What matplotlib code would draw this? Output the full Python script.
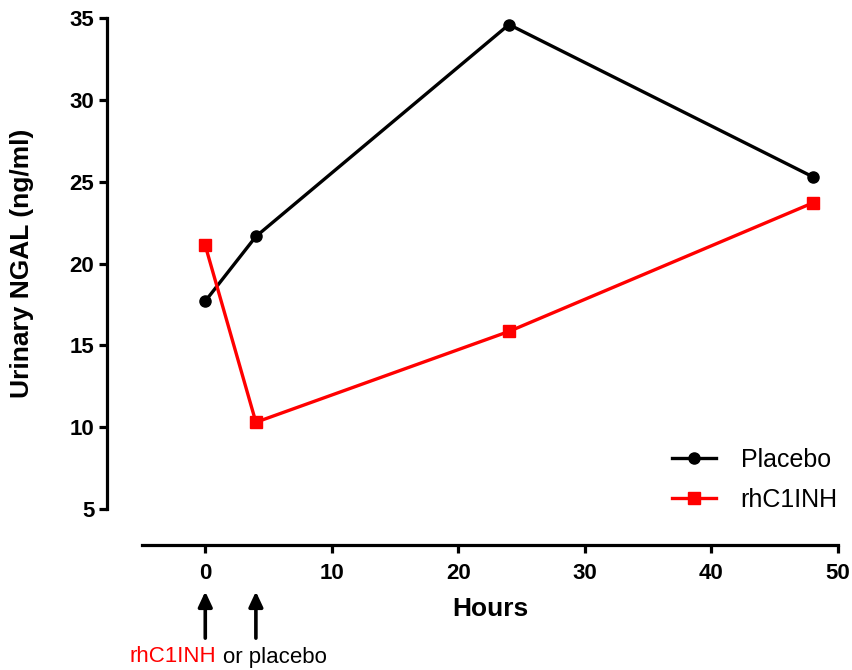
import matplotlib
matplotlib.use("Agg")
import matplotlib.pyplot as plt

plt.rcParams['font.family'] = ['Liberation Sans', 'DejaVu Sans']

hours = [0, 4, 24, 48]
placebo = [17.7, 21.65, 34.6, 25.3]
rhc1inh = [21.1, 10.3, 15.85, 23.7]
xticks = [0, 10, 20, 30, 40, 50]
yticks = [5, 10, 15, 20, 25, 30, 35]
arrow_x = [0, 4]

fig = plt.figure(figsize=(8.52, 6.70), dpi=100)
ax = fig.add_axes([142/852, 1-545/670, (838-142)/852, (545-18)/670])

ax.plot(hours, placebo, color='black', lw=2.4, marker='o', ms=8, label='Placebo', clip_on=False, zorder=3)
ax.plot(hours, rhc1inh, color='#ff0000', lw=2.4, marker='s', ms=8, label='rhC1INH', clip_on=False, zorder=3)

ax.set_xlim(-5, 50)
ax.set_ylim(5 - 36/16.37, 35)
ax.set_xticks(xticks)
ax.set_yticks(yticks)
for s in ['top', 'right']:
    ax.spines[s].set_visible(False)
ax.spines['left'].set_position(('outward', 25.2))
ax.spines['left'].set_bounds(5, 35)
ax.spines['bottom'].set_bounds(-5, 50)
for s in ['left', 'bottom']:
    ax.spines[s].set_linewidth(2.3)
ax.tick_params(axis='both', width=2.3, length=6, labelsize=16)
ax.tick_params(axis='x', pad=7)
ax.tick_params(axis='y', pad=3)
for lab in ax.get_xticklabels() + ax.get_yticklabels():
    lab.set_fontweight('bold')

ax.set_xlabel('Hours', fontsize=19, fontweight='bold', labelpad=9)
ax.set_ylabel('Urinary NGAL (ng/ml)', fontsize=19, fontweight='bold', va='center')
ax.yaxis.set_label_coords(-0.172, 0.534)

leg = ax.legend(loc='lower right', bbox_to_anchor=(1.032, 0.02), frameon=False, fontsize=18,
                handlelength=1.75, handletextpad=1.0, labelspacing=0.65)

trans = ax.get_xaxis_transform()
for xv in arrow_x:
    ax.annotate('', xy=(xv, -0.083), xytext=(xv, -0.182), xycoords=trans, textcoords=trans,
                arrowprops=dict(arrowstyle='-|>,head_length=0.9,head_width=0.42', color='black', lw=2.6),
                annotation_clip=False)

fig.text(216/852, 1-657/670, 'rhC1INH', color='#ff0000', fontsize=16, ha='right', va='center')
fig.text(223/852, 1-657/670, 'or placebo', color='black', fontsize=16, ha='left', va='center')

fig.savefig('out.png', dpi=100)
